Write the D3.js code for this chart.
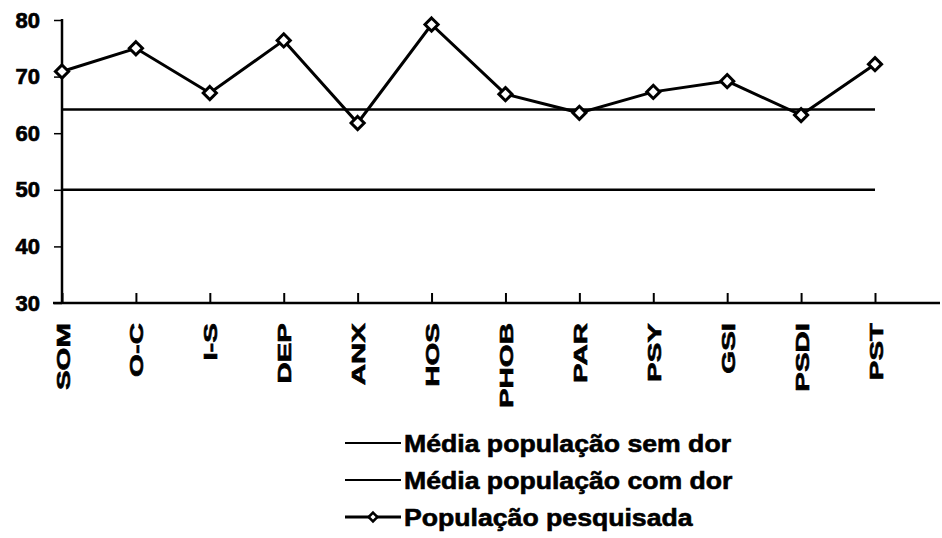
<!DOCTYPE html>
<html>
<head>
<meta charset="utf-8">
<script src="https://cdn.jsdelivr.net/npm/d3@7"></script>
<style>
  body { margin: 0; background: #fff; }
  text { font-family: "Liberation Sans", Arial, sans-serif; font-weight: bold; fill: #000; }
</style>
</head>
<body>
<svg id="chart"></svg>
<script>
// Data
const categories = ["SOM", "O-C", "I-S", "DEP", "ANX", "HOS", "PHOB", "PAR", "PSY", "GSI", "PSDI", "PST"];
const pesquisada = [70.9, 75.0, 67.1, 76.4, 61.8, 79.2, 66.9, 63.6, 67.3, 69.2, 63.2, 72.2];
const semDor = 64.2;
const comDor = 50;
const yTicks = [30, 40, 50, 60, 70, 80];
const legendLabels = ["Média população sem dor", "Média população com dor", "População pesquisada"];

const width = 942, height = 538;

const svg = d3.select("#chart")
    .attr("width", width)
    .attr("height", height);

const x = d3.scalePoint()
    .domain(categories)
    .range([62, 875]);

const y = d3.scaleLinear()
    .domain([30, 80])
    .range([303, 20]);

// y axis
const yAxis = svg.append("g")
    .attr("transform", "translate(62,0)")
    .call(d3.axisLeft(y).tickValues(yTicks).tickSize(8).tickPadding(14));
yAxis.select(".domain").attr("stroke-width", 2.5).attr("d", "M0," + (y(80) - 1) + "V" + y(30));
yAxis.selectAll(".tick line").attr("stroke-width", 1.5);
yAxis.selectAll(".tick text")
    .attr("font-size", 22)
    .attr("font-family", "Liberation Sans, Arial, sans-serif")
    .attr("font-weight", "bold")
    .attr("fill", "#000")
    .attr("stroke", "#000")
    .attr("stroke-width", 0.7);

// x axis
const xAxis = svg.append("g")
    .attr("transform", "translate(0," + y(30) + ")")
    .call(d3.axisBottom(x).tickSize(-10).tickPadding(0));
xAxis.select(".domain").attr("stroke-width", 2.5).attr("d", "M53,0H940");
xAxis.selectAll(".tick line").attr("stroke-width", 2);
xAxis.selectAll(".tick text")
    .attr("font-size", 19)
    .attr("font-family", "Liberation Sans, Arial, sans-serif")
    .attr("font-weight", "bold")
    .attr("fill", "#000")
    .attr("stroke", "#000")
    .attr("stroke-width", 0.6)
    .attr("text-anchor", "end")
    .attr("dy", null)
    .attr("y", 0)
    .attr("transform", "translate(7,20) rotate(-90) scale(1.55,1)");

// reference lines
[semDor, comDor].forEach(v => {
    svg.append("line")
        .attr("x1", x("SOM")).attr("x2", x("PST"))
        .attr("y1", y(v)).attr("y2", y(v))
        .attr("stroke", "#000")
        .attr("stroke-width", 2.5);
});

// data line
const line = d3.line()
    .x((d, i) => x(categories[i]))
    .y(d => y(d));

svg.append("path")
    .datum(pesquisada)
    .attr("d", line)
    .attr("fill", "none")
    .attr("stroke", "#000")
    .attr("stroke-width", 3);

const diamond = d3.symbol().type(d3.symbolDiamond2).size(110);

svg.append("g")
    .selectAll("path")
    .data(pesquisada)
    .enter()
    .append("path")
    .attr("d", diamond)
    .attr("transform", (d, i) => "translate(" + x(categories[i]) + "," + y(d) + ")")
    .attr("fill", "#fff")
    .attr("stroke", "#000")
    .attr("stroke-width", 3);

// legend
const legend = svg.append("g").attr("transform", "translate(345,443)");
legendLabels.forEach((label, i) => {
    const g = legend.append("g").attr("transform", "translate(0," + i * 37 + ")");
    g.append("line")
        .attr("x1", 0).attr("x2", 56)
        .attr("stroke", "#000")
        .attr("stroke-width", i === 2 ? 3 : 2);
    if (i === 2) {
        g.append("path")
            .attr("d", d3.symbol().type(d3.symbolDiamond2).size(50))
            .attr("transform", "translate(28,0)")
            .attr("fill", "#fff")
            .attr("stroke", "#000")
            .attr("stroke-width", 2.5);
    }
    g.append("text")
        .attr("transform", "translate(59,0) scale(1.11,1)")
        .attr("dy", "0.36em")
        .attr("font-size", 24)
        .attr("stroke", "#000")
        .attr("stroke-width", 0.6)
        .text(label);
});
</script>
</body>
</html>
